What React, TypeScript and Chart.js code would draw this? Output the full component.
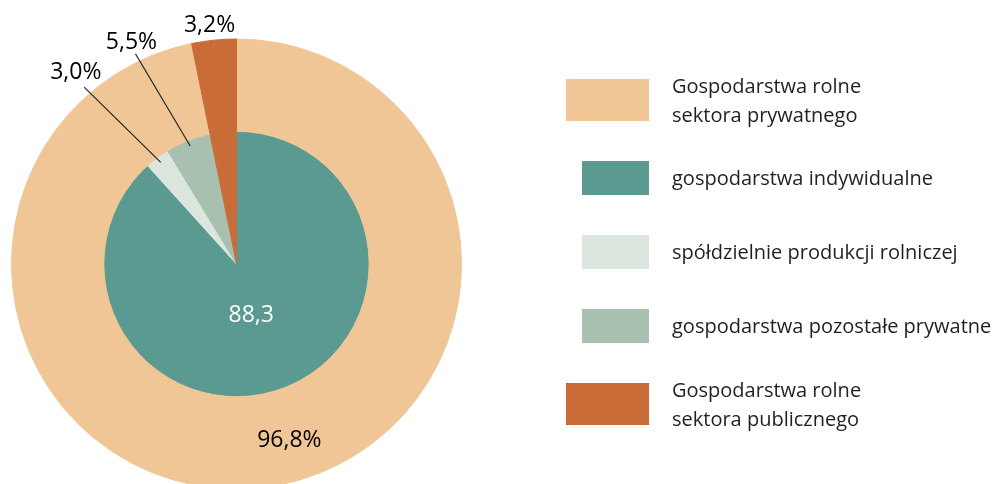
import React, { useEffect, useRef } from "react";
import { Chart, registerables } from "chart.js";

Chart.register(...registerables);

// ---- data ----
const categories = [
  "Gospodarstwa rolne sektora prywatnego",
  "gospodarstwa indywidualne",
  "spółdzielnie produkcji rolniczej",
  "gospodarstwa pozostałe prywatne",
  "Gospodarstwa rolne sektora publicznego",
];
const legendLines = [
  ["Gospodarstwa rolne", "sektora prywatnego"],
  ["gospodarstwa indywidualne"],
  ["spółdzielnie produkcji rolniczej"],
  ["gospodarstwa pozostałe prywatne"],
  ["Gospodarstwa rolne", "sektora publicznego"],
];
// outer ring: sectors; inner pie: breakdown
const outerValues = [96.8, 0, 0, 0, 3.2];
const innerValues = [0, 88.3, 3.0, 5.5, 3.2];
const colors = ["#F0C696", "#5B9A90", "#DBE6DF", "#A8C0B0", "#C96C38"];

// ---- styling / layout ----
const W = 995;
const H = 520;
const REF_R = 225.5;
const LEGEND = {
  boxRight: 649,
  bigBoxW: 83,
  bigBoxH: 42,
  smallBoxW: 67,
  smallBoxH: 34,
  top: 79,
  gap: 40,
  textX: 672,
  lineH: 28.4,
  baseOff: 7.4,
  font: '20px "Open Sans"',
  color: '#231F20',
};
const LABEL_FONT = '23px "Open Sans"';
const LABELS = [
  { dataset: 0, index: 0, suffix: "%", dx: 53, dy: 183.5, color: "#000" },
  { dataset: 0, index: 4, suffix: "%", dx: -27, dy: -232.5, color: "#000" },
  { dataset: 1, index: 1, suffix: "", dx: 14.8, dy: 58.5, color: "#fff" },
  { dataset: 1, index: 2, suffix: "%", dx: -161, dy: -185, color: "#000", leader: { fromR: 0.955, tx: -152.7, ty: -177.3 } },
  { dataset: 1, index: 3, suffix: "%", dx: -105.3, dy: -215.7, color: "#000", leader: { fromR: 0.955, tx: -101.3, ty: -210.7 } },
];

const fmt = (v: number) => v.toFixed(1).replace(".", ",");

const overlayPlugin = {
  id: "overlay",
  afterDatasetsDraw(chart: any) {
    const ctx: CanvasRenderingContext2D = chart.ctx;
    const a0: any = chart.getDatasetMeta(0).data[0];
    const cx = a0.x;
    const cy = a0.y;
    const s = a0.outerRadius / REF_R;
    ctx.save();
    for (const lab of LABELS) {
      const arc: any = chart.getDatasetMeta(lab.dataset).data[lab.index];
      const vals = lab.dataset === 0 ? outerValues : innerValues;
      const text = fmt(vals[lab.index]) + lab.suffix;
      if (lab.leader) {
        const mid = (arc.startAngle + arc.endAngle) / 2;
        const r = arc.outerRadius * lab.leader.fromR;
        ctx.beginPath();
        ctx.moveTo(cx + r * Math.cos(mid), cy + r * Math.sin(mid));
        ctx.lineTo(cx + lab.leader.tx * s, cy + lab.leader.ty * s);
        ctx.strokeStyle = "#222";
        ctx.lineWidth = 1.2;
        ctx.stroke();
      }
      ctx.font = LABEL_FONT;
      ctx.fillStyle = lab.color;
      ctx.textAlign = "center";
      ctx.textBaseline = "alphabetic";
      ctx.fillText(text, cx + lab.dx * s, cy + lab.dy * s);
    }
    // legend
    let y = LEGEND.top;
    ctx.font = LEGEND.font;
    ctx.textAlign = "left";
    ctx.textBaseline = "alphabetic";
    legendLines.forEach((lines, i) => {
      const big = outerValues[i] > 0;
      const bw = big ? LEGEND.bigBoxW : LEGEND.smallBoxW;
      const bh = big ? LEGEND.bigBoxH : LEGEND.smallBoxH;
      ctx.fillStyle = colors[i];
      ctx.fillRect(LEGEND.boxRight - bw, y, bw, bh);
      const cyBox = y + bh / 2;
      ctx.fillStyle = LEGEND.color;
      const n = lines.length;
      lines.forEach((ln, k) => {
        const by = cyBox + (k - (n - 1) / 2) * LEGEND.lineH + LEGEND.baseOff;
        ctx.fillText(ln, LEGEND.textX, by);
      });
      y += bh + LEGEND.gap;
    });
    ctx.restore();
  },
};

export default function App() {
  const ref = useRef<HTMLCanvasElement | null>(null);
  useEffect(() => {
    if (!ref.current) return;
    const bw = (c: any) => (c.raw === 0 ? 0 : 1);
    const chart = new Chart(ref.current, {
      type: "pie",
      data: {
        labels: categories,
        datasets: [
          { data: outerValues, backgroundColor: colors, borderColor: colors, borderWidth: bw, weight: 92.5 } as any,
          { data: innerValues, backgroundColor: colors, borderColor: colors, borderWidth: bw, weight: 133 } as any,
        ],
      },
      options: {
        responsive: false,
        animation: false,
        events: [],
        layout: { padding: { left: 11, top: 38.5, right: W - 462, bottom: H - 489.5 } },
        plugins: { legend: { display: false }, tooltip: { enabled: false } },
      },
      plugins: [overlayPlugin],
    });
    return () => chart.destroy();
  }, []);
  return (
    <div style={{ position: "fixed", left: 0, top: 0, width: W, height: 484, overflow: "hidden", background: "#fff" }}>
      <canvas ref={ref} width={W} height={H} style={{ display: "block" }} />
    </div>
  );
}
